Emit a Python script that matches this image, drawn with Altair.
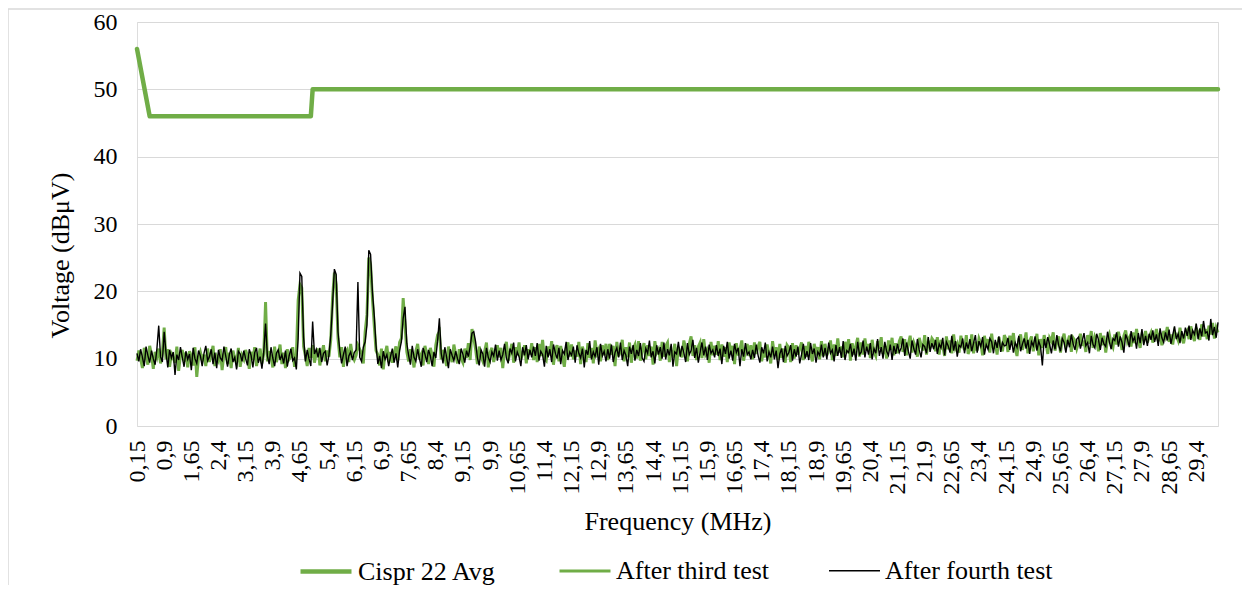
import altair as alt
import pandas as pd

# ---------------- data ----------------
series_names = ["Cispr 22 Avg", "After third test", "After fourth test"]
series_colors = ["#70AD47", "#70AD47", "#000000"]
series_widths = [4.5, 1.4, 1.4]

# CISPR 22 class B average limit
cispr_freq = [0.15, 0.5, 4.95, 5.0, 30.0]
cispr_level = [56, 46, 46, 50, 50]

# measured spectra: one sample every 0.05 MHz starting at 0.15 MHz
start_freq = 0.15
freq_step = 0.05

third_test = [
    9.7, 11.2, 10.0, 8.6, 11.6, 10.3, 9.1, 11.9, 10.6, 8.5, 11.0, 10.2, 11.5, 9.3, 10.8, 14.6, 9.9, 11.4, 8.8, 10.7,
    10.1, 9.4, 11.8, 8.2, 10.5, 11.3, 9.6, 10.9, 8.7, 11.1, 10.4, 9.0, 11.7, 7.3, 10.2, 11.0, 9.8, 10.6, 8.9, 11.5,
    9.5, 10.8, 11.9, 8.9, 10.3, 9.7, 11.4, 8.3, 10.6, 11.7, 9.2, 10.9, 8.6, 11.2, 10.0, 9.4, 11.6, 8.8, 10.5, 9.9,
    11.3, 10.4, 8.5, 11.0, 9.8, 11.7, 8.9, 10.2, 11.5, 9.3, 10.7, 18.4, 9.6, 11.1, 10.3, 8.7, 11.8, 9.5, 10.6, 12.1,
    9.2, 10.9, 8.6, 11.4, 9.9, 10.3, 11.7, 8.8, 10.5, 18.7, 21.0, 20.5, 11.8, 10.4, 8.9, 11.6, 10.1, 12.0, 9.4, 10.8,
    11.5, 9.0, 10.7, 12.0, 9.6, 11.2, 10.3, 12.8, 19.0, 22.8, 21.0, 13.0, 10.2, 11.7, 8.8, 10.9, 11.3, 9.5, 12.2, 10.4,
    9.8, 10.5, 12.0, 11.4, 10.8, 9.3, 14.0, 16.5, 25.0, 24.0, 19.0, 15.0, 11.2, 10.6, 9.0, 11.5, 8.4, 10.7, 11.9, 9.5,
    11.0, 9.4, 10.9, 11.8, 9.7, 12.4, 13.0, 19.0, 15.0, 11.0, 9.6, 11.4, 10.3, 8.7, 11.1, 12.2, 9.9, 10.6, 9.0, 11.9,
    10.8, 9.2, 11.6, 10.5, 8.8, 12.0, 13.5, 14.0, 9.9, 11.3, 10.2, 8.9, 11.8, 10.4, 9.5, 12.1, 10.6, 9.3, 11.4, 10.0,
    9.4, 11.5, 10.1, 12.3, 9.8, 14.4, 13.0, 11.4, 9.2, 11.8, 10.3, 9.6, 11.1, 12.4, 8.7, 10.9, 11.6, 9.5, 10.8, 12.0,
    10.2, 11.6, 8.6, 11.3, 12.5, 9.7, 10.9, 12.2, 9.4, 11.7, 10.5, 12.4, 9.9, 10.8, 12.0, 9.3, 11.4, 10.6, 12.3, 9.8,
    11.7, 9.5, 12.2, 10.4, 12.8, 10.0, 9.7, 11.8, 10.5, 12.6, 9.1, 11.3, 12.0, 9.6, 11.9, 10.2, 8.8, 11.5, 12.4, 10.3,
    12.1, 9.9, 11.2, 10.3, 12.5, 9.2, 11.8, 10.7, 9.5, 12.3, 10.1, 11.6, 9.3, 12.7, 10.8, 11.4, 9.6, 12.0, 10.5, 12.2,
    9.8, 12.2, 10.6, 11.9, 8.9, 12.5, 10.4, 11.1, 12.8, 9.6, 11.7, 10.2, 12.4, 9.4, 11.5, 12.1, 10.0, 12.6, 9.7, 11.3,
    12.3, 9.9, 12.0, 10.4, 11.8, 9.1, 12.6, 10.9, 11.4, 9.7, 12.5, 10.3, 11.9, 12.4, 9.5, 11.1, 10.6, 12.2, 8.9, 11.7,
    11.0, 10.2, 12.7, 11.5, 9.6, 12.2, 13.3, 10.4, 12.0, 9.8, 11.8, 12.4, 10.1, 12.9, 10.7, 11.3, 9.4, 12.5, 10.5, 11.9,
    10.6, 12.6, 9.8, 12.1, 10.3, 11.7, 9.5, 12.4, 10.8, 11.9, 9.2, 12.3, 10.5, 11.4, 12.7, 9.7, 11.1, 12.2, 10.4, 12.0,
    9.9, 12.4, 10.7, 11.8, 12.5, 9.6, 11.3, 10.2, 12.1, 10.8, 9.3, 12.6, 10.6, 11.7, 9.8, 12.2, 10.1, 11.5, 9.4, 12.0,
    11.6, 9.5, 12.3, 10.0, 12.0, 10.6, 11.5, 12.4, 9.8, 11.9, 10.3, 12.5, 10.7, 9.6, 12.2, 10.9, 11.7, 9.9, 12.6, 10.4,
    12.2, 10.5, 11.3, 12.7, 9.8, 12.1, 10.4, 13.0, 10.9, 11.8, 10.2, 12.5, 10.8, 12.9, 9.7, 12.3, 10.6, 11.9, 13.1, 10.3,
    12.4, 10.6, 13.0, 11.2, 12.2, 10.1, 12.8, 11.0, 10.4, 12.6, 11.5, 13.2, 10.7, 11.9, 10.0, 12.7, 11.3, 13.1, 10.5, 12.3,
    10.8, 12.6, 13.3, 11.0, 12.9, 10.5, 12.2, 13.4, 10.9, 12.4, 11.7, 10.3, 13.1, 12.0, 11.2, 13.5, 10.6, 12.5, 11.8, 13.0,
    12.6, 11.1, 13.2, 10.6, 12.8, 11.9, 10.4, 13.3, 11.4, 12.7, 10.8, 13.6, 11.6, 12.2, 10.9, 13.4, 12.1, 11.3, 13.5, 10.7,
    11.4, 13.6, 10.8, 12.5, 11.2, 13.0, 12.3, 10.5, 13.4, 11.8, 12.9, 10.9, 13.7, 11.5, 12.4, 10.6, 13.2, 12.0, 11.1, 13.5,
    12.8, 11.0, 13.4, 12.1, 13.8, 11.5, 10.4, 12.9, 13.6, 11.3, 12.4, 13.9, 10.8, 12.6, 13.3, 11.1, 12.2, 13.7, 10.5, 12.9,
    11.6, 13.5, 12.3, 10.7, 13.1, 12.6, 13.9, 11.2, 12.4, 13.3, 10.9, 12.8, 13.7, 11.8, 12.5, 13.4, 11.0, 13.1, 12.7, 11.5,
    12.4, 13.7, 11.9, 12.7, 11.0, 13.5, 12.2, 14.1, 11.6, 13.2, 12.5, 11.1, 13.8, 12.0, 13.4, 10.9, 12.8, 13.6, 12.3, 11.7,
    13.6, 12.1, 14.0, 12.8, 11.3, 13.4, 14.2, 12.5, 13.1, 11.8, 13.9, 12.3, 14.4, 12.7, 11.6, 13.5, 12.9, 14.1, 12.4, 13.3,
    13.9, 12.4, 13.2, 14.4, 12.6, 13.8, 12.0, 14.1, 13.3, 14.7, 12.5, 13.6, 12.1, 14.0, 13.4, 12.7, 14.6, 13.1, 12.3, 13.8,
    14.2, 12.9, 14.8, 13.5, 12.6, 14.5, 13.9, 12.8, 15.1, 13.3, 14.4, 12.9, 14.9, 13.6, 15.3, 13.0, 14.6, 13.9,
]

fourth_test = [
    10.8, 9.6, 11.4, 10.2, 8.9, 11.8, 10.5, 9.4, 11.2, 10.0, 9.1, 11.5, 14.9, 10.3, 9.5, 14.0, 10.9, 8.7, 11.3, 10.1,
    11.0, 7.6, 10.6, 9.8, 11.7, 10.2, 8.8, 11.1, 9.9, 10.7, 8.3, 11.6, 10.0, 9.3, 11.2, 10.4, 8.9, 10.8, 11.9, 9.7,
    10.3, 11.4, 9.2, 10.9, 8.6, 11.3, 10.1, 9.7, 11.8, 10.4, 8.8, 10.6, 11.5, 9.5, 10.2, 8.4, 11.1, 10.7, 9.6, 11.2,
    10.0, 9.0, 11.4, 10.5, 8.7, 10.9, 11.6, 9.4, 10.3, 8.5, 11.0, 15.2, 10.4, 9.2, 11.7, 10.1, 8.9, 10.8, 11.3, 9.8,
    10.6, 9.3, 11.2, 8.8, 10.4, 11.5, 9.7, 10.1, 8.4, 13.0, 22.7, 22.2, 13.2, 9.6, 11.3, 10.0, 8.9, 15.5, 10.7, 11.4,
    10.2, 11.6, 9.5, 10.8, 11.1, 9.0, 10.5, 13.5, 18.0, 23.3, 22.5, 14.0, 11.2, 9.3, 10.6, 11.8, 8.9, 10.4, 11.0, 9.8,
    10.9, 11.3, 21.4, 10.2, 9.6, 11.7, 12.5, 15.0, 26.1, 25.5, 20.0, 16.5, 12.0, 9.2, 10.4, 8.6, 11.1, 9.9, 10.6, 8.9,
    10.3, 11.5, 9.4, 10.8, 8.7, 11.2, 12.5, 16.0, 17.7, 12.3, 10.5, 9.1, 11.9, 10.2, 9.6, 11.4, 10.0, 8.8, 11.6, 10.7,
    9.5, 11.3, 10.4, 8.9, 11.0, 10.1, 12.6, 16.0, 10.8, 9.3, 11.7, 10.2, 8.6, 11.4, 10.5, 9.7, 11.1, 10.0, 9.2, 11.5,
    10.6, 9.4, 11.2, 10.3, 11.8, 13.8, 14.0, 12.5, 10.1, 9.0, 11.3, 10.7, 8.8, 11.6, 10.2, 9.5, 11.0, 10.4, 12.1, 9.7,
    11.2, 9.8, 10.6, 12.2, 10.1, 9.3, 11.5, 10.8, 12.4, 9.6, 11.0, 10.3, 8.9, 11.7, 10.5, 12.0, 9.9, 11.3, 10.2, 11.8,
    10.4, 12.3, 9.7, 11.1, 10.6, 8.8, 11.9, 10.2, 11.4, 9.5, 12.1, 10.9, 10.0, 11.6, 9.2, 11.2, 10.7, 12.5, 9.8, 11.0,
    10.5, 11.8, 9.4, 12.0, 10.8, 10.1, 11.5, 8.7, 11.3, 10.6, 12.6, 9.9, 11.0, 10.3, 11.7, 9.1, 12.2, 10.4, 11.1, 9.6,
    11.4, 10.0, 12.1, 9.5, 10.9, 11.6, 10.2, 12.4, 9.8, 11.2, 10.5, 8.9, 11.8, 10.7, 12.0, 9.7, 11.3, 10.4, 12.3, 10.1,
    9.6, 11.5, 10.8, 12.7, 10.2, 11.1, 9.3, 12.0, 10.6, 11.7, 10.0, 12.4, 9.9, 11.4, 10.5, 12.2, 8.8, 11.0, 10.7, 12.5,
    10.3, 11.9, 10.9, 9.5, 12.3, 10.6, 11.2, 12.8, 10.1, 11.6, 9.4, 11.0, 12.4, 10.5, 11.8, 9.8, 12.1, 10.8, 11.3, 10.2,
    12.0, 10.4, 11.5, 9.2, 11.9, 10.7, 12.5, 10.0, 11.2, 9.7, 12.2, 10.9, 11.6, 8.9, 11.4, 10.3, 12.3, 10.6, 11.0, 9.9,
    11.3, 10.1, 12.1, 10.5, 9.4, 11.7, 10.8, 12.4, 9.6, 11.0, 10.2, 11.8, 9.9, 11.2, 8.6, 10.7, 11.5, 9.5, 11.9, 10.4,
    10.9, 12.0, 9.7, 11.4, 10.3, 11.8, 9.3, 10.6, 12.2, 10.0, 11.1, 9.8, 12.3, 10.7, 11.5, 9.4, 11.0, 10.5, 12.1, 10.2,
    11.6, 9.9, 12.4, 10.8, 11.3, 9.6, 12.0, 10.4, 11.7, 10.1, 12.6, 9.8, 11.2, 10.9, 12.2, 10.3, 11.5, 9.7, 12.5, 10.6,
    11.0, 12.7, 10.2, 11.8, 10.6, 12.3, 9.9, 11.5, 10.8, 12.9, 10.4, 11.7, 10.0, 12.5, 11.1, 10.5, 12.1, 9.8, 11.9, 10.7,
    12.2, 10.9, 11.6, 13.0, 10.4, 12.4, 11.1, 10.0, 12.7, 11.5, 10.6, 12.9, 11.3, 10.2, 12.1, 11.8, 10.8, 13.2, 11.0, 12.3,
    11.4, 12.8, 10.7, 12.2, 11.6, 13.1, 10.5, 12.5, 11.9, 10.9, 13.4, 11.2, 12.6, 10.3, 12.0, 11.7, 13.0, 10.8, 12.4, 11.5,
    12.9, 11.1, 12.3, 13.5, 10.9, 12.6, 11.8, 13.2, 10.6, 12.1, 11.4, 13.0, 12.5, 10.8, 12.8, 11.6, 13.3, 11.0, 12.4, 11.9,
    12.0, 13.1, 11.3, 12.7, 10.9, 12.4, 11.7, 13.4, 11.1, 12.2, 13.0, 11.5, 12.8, 10.7, 12.5, 11.9, 13.3, 11.2, 12.6, 11.8,
    9.0, 12.9, 11.6, 13.2, 12.1, 10.8, 12.7, 11.4, 13.5, 12.0, 11.1, 13.0, 12.4, 10.9, 12.8, 11.7, 13.6, 12.2, 11.3, 12.9,
    13.2, 11.5, 12.6, 13.8, 11.9, 12.4, 10.8, 13.4, 12.1, 11.6, 13.7, 12.8, 11.3, 13.1, 12.2, 11.8, 14.0, 12.5, 11.4, 13.0,
    12.7, 13.9, 11.8, 13.3, 12.4, 10.9, 13.6, 12.9, 11.7, 14.1, 12.6, 13.2, 11.5, 13.8, 12.3, 14.4, 12.0, 13.4, 11.9, 13.7,
    12.8, 14.2, 12.5, 13.6, 11.9, 14.5, 13.1, 12.4, 13.9, 12.7, 14.3, 12.2, 13.5, 14.8, 12.9, 13.7, 12.3, 14.1, 13.0, 14.6,
    13.4, 14.9, 12.8, 14.2, 13.6, 15.2, 12.9, 14.5, 13.3, 15.6, 13.8, 14.0, 12.7, 15.9, 13.5, 14.7, 13.1, 15.4,
]

x_tick_labels = [
    "0,15", "0,9", "1,65", "2,4", "3,15", "3,9", "4,65", "5,4", "6,15", "6,9",
    "7,65", "8,4", "9,15", "9,9", "10,65", "11,4", "12,15", "12,9", "13,65", "14,4",
    "15,15", "15,9", "16,65", "17,4", "18,15", "18,9", "19,65", "20,4", "21,15", "21,9",
    "22,65", "23,4", "24,15", "24,9", "25,65", "26,4", "27,15", "27,9", "28,65", "29,4",
]
y_ticks = [0, 10, 20, 30, 40, 50, 60]

# ---------------- tables ----------------
def spectrum(values, name):
    return pd.DataFrame({
        "freq": [round(start_freq + freq_step * i, 2) for i in range(len(values))],
        "level": values,
        "series": name,
    })

cispr_df = pd.DataFrame({"freq": cispr_freq, "level": cispr_level, "series": series_names[0]})
third_df = spectrum(third_test, series_names[1])
fourth_df = spectrum(fourth_test, series_names[2])

tick_values = [float(t.replace(",", ".")) for t in x_tick_labels]

FONT = "Liberation Serif"

legend = alt.Legend(
    title=None,
    orient="none",
    direction="horizontal",
    legendX=161,
    legendY=521.5,
    padding=0,
    symbolType="stroke",
    symbolSize=2600,
    symbolStrokeWidth={"expr": "datum.value === 'Cispr 22 Avg' ? 4.5 : 1"},
    labelFontSize=26,
    labelFont=FONT,
    labelColor="#000000",
    labelOffset=4,
    columnPadding=56,
    labelLimit=400,
)

x_enc = alt.X(
    "freq:Q",
    scale=alt.Scale(domain=[0.15, 30], nice=False, zero=False),
    axis=alt.Axis(
        title="Frequency (MHz)",
        values=tick_values,
        labelExpr="replace(format(datum.value, '.2~f'), '.', ',')",
        labelAngle=270,
        labelFontSize=24,
        labelFont=FONT,
        labelColor="#000000",
        labelPadding=14,
        labelOverlap=False,
        labelFlush=False,
        ticks=False,
        domain=False,
        grid=False,
        titleFont=FONT,
        titleFontSize=26,
        titleFontWeight="normal",
        titleColor="#000000",
        titlePadding=14,
    ),
)
y_enc = alt.Y(
    "level:Q",
    scale=alt.Scale(domain=[0, 60], nice=False),
    axis=alt.Axis(
        title="Voltage (dBμV)",
        values=y_ticks,
        labelFontSize=24,
        labelFont=FONT,
        labelColor="#000000",
        labelPadding=20,
        ticks=False,
        domain=False,
        grid=True,
        gridColor="#d9d9d9",
        gridWidth=1,
        titleFont=FONT,
        titleFontSize=26,
        titleFontWeight="normal",
        titleColor="#000000",
        titlePadding=20,
        titleY=233,
    ),
)
color_enc = alt.Color(
    "series:N",
    scale=alt.Scale(domain=series_names, range=series_colors),
    legend=legend,
)
width_enc = alt.StrokeWidth(
    "series:N",
    scale=alt.Scale(domain=series_names, range=series_widths),
    legend=None,
)

def line_layer(df, **mark_kw):
    return alt.Chart(df).mark_line(**mark_kw).encode(
        x=x_enc, y=y_enc, color=color_enc, strokeWidth=width_enc
    )

cispr_layer = line_layer(cispr_df, strokeJoin="round", strokeCap="round")
third_layer = line_layer(third_df)
fourth_layer = line_layer(fourth_df)

# chart-area frame (Excel chart border)
frame_df = pd.DataFrame({"k": [0]})
frame_top = alt.Chart(frame_df).mark_rule(color="#d9d9d9", strokeWidth=1.5).encode(
    x=alt.value(-129), x2=alt.value(1120), y=alt.value(-13)
)
frame_left = alt.Chart(frame_df).mark_rule(color="#d9d9d9", strokeWidth=1.5).encode(
    x=alt.value(-129), y=alt.value(-13), y2=alt.value(600)
)

chart = (
    alt.layer(frame_top, frame_left, cispr_layer, third_layer, fourth_layer)
    .resolve_scale(color="shared", strokeWidth="shared")
    .properties(
        width=1081,
        height=404,
        autosize=alt.AutoSizeParams(type="none"),
        padding={"left": 129, "top": 14, "right": 24, "bottom": 159},
    )
    .configure_view(stroke=None)
    .configure(background="#ffffff")
)

chart.save("out.html", embed_options={"renderer": "svg", "actions": False})
